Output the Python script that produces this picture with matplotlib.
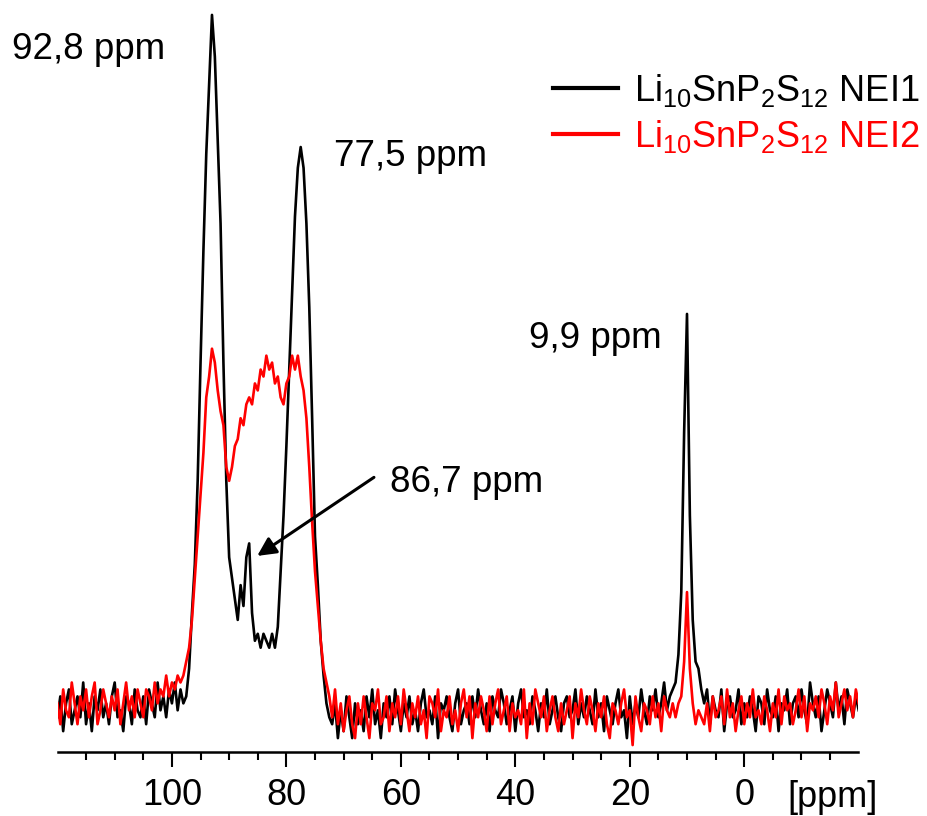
import numpy as np
import matplotlib
matplotlib.use('Agg')
import matplotlib.pyplot as plt
from matplotlib.ticker import MultipleLocator

plt.rcParams['font.family'] = ['Liberation Sans', 'DejaVu Sans']
plt.rcParams['mathtext.default'] = 'regular'

# chemical shift grid, 0.5 ppm steps from 120 down to -20
ppm = np.arange(120, -20.01, -0.5)

# 120 .. 98.5 ppm baseline
black_left = [-1, 2, -3, 1, 3, -2, 0, 2, -1, 4,
              -2, 1, -3, 2, 0, 3, -1, 1, -2, 2,
              4, -1, 0, -3, 2, 1, -2, 3, 0, -1,
              2, -2, 3, 1, -1, 4, 0, 2, -1, 3,
              1, 4, 0, 3]
red_left = [1, -2, 3, 0, -1, 4, 1, -2, 2, 0,
            3, -1, 2, 4, -2, 0, 3, 1, -1, 2,
            0, 3, -2, 1, 4, 0, 2, -1, 3, 1,
            -1, 3, 2, 0, 4, 1, 3, 2, 5, 2,
            4, 3, 5, 4]

# 98 .. 72.5 ppm, main signals
black_main = [1, 2, 6, 14, 21, 33, 50, 66, 80, 90,
              100, 94, 82, 70, 50, 33, 22, 19, 16, 13,
              18, 15, 22, 24, 14, 10, 11, 9, 11, 10,
              9, 11, 9, 12, 20, 28, 38, 49, 60, 71,
              78, 81, 78, 70, 58, 42, 25, 18, 10, 5,
              1, -1]
red_main = [5, 7, 9, 13, 19, 25, 31, 37, 45, 48,
            52, 50, 46, 43, 41, 35, 33, 35, 38, 39,
            42, 41, 44, 45, 44, 47, 46, 49, 48, 51,
            49, 50, 47, 48, 45, 44, 47, 48, 51, 49,
            51, 48, 46, 42, 35, 27, 20, 15, 10, 6,
            4, 2]

# 72 .. 12.5 ppm baseline
black_mid = [-2, 1, -4, 0, -3, 2, -1, -4, 1, -2,
             0, -3, 2, -1, 3, -2, 0, -4, 1, -1,
             2, -2, 3, 0, -3, 1, -1, 2, -2, 0,
             -3, 1, 3, -1, 0, -2, 2, -4, 1, 0,
             2, -1, -3, 1, 3, -2, 0, 1, -2, 2,
             -1, 3, 0, -2, 1, -3, 2, 0, -1, 3,
             1, -2, 0, 2, -3, 1, 3, -1, 0, -2,
             2, 0, -3, 1, -1, 3, -2, 0, 2, -1,
             -3, 1, 2, -1, 0, 3, -2, 1, -1, 2,
             0, -2, 3, -1, 1, -3, 2, 0, -2, 1,
             3, -1, 0, -4, 2, -2, 1, -1, 3, 0,
             -2, 2, 0, 3, -1, 1, 4, 0, 2, 3]
red_mid = [-1, 3, -2, 1, -3, 0, 2, -2, -4, 1,
           -2, 2, -1, -4, 1, 0, 3, -2, -1, 2,
           -3, 1, -1, 2, -2, 3, 0, -3, 1, -1,
           2, -2, 0, -4, 2, 1, -1, 3, -3, 0,
           -1, 2, -2, 0, -3, 1, 3, -1, 2, -4,
           1, -1, 2, 0, -3, 2, -2, 1, 3, -2,
           0, 2, -3, 1, -1, 0, -2, 3, -4, 1,
           -2, 3, 1, -1, 2, -3, 0, 2, -1, -3,
           1, -2, 0, 2, -4, 1, -1, 3, 0, -2,
           2, 0, -3, 1, -1, 2, -2, -4, 1, 0,
           -2, 1, 3, -1, 0, -5, 2, -1, -3, 1,
           0, -2, 2, -1, 1, -3, 2, 0, -1, 1]

# 12 .. 7.5 ppm, the 9,9 ppm signal
black_small = [4, 8, 17, 40, 57, 28, 13, 7, 6, 3]
red_small = [-1, 1, 2, 7, 17, 6, 1, -2, 0, -1]

# 7 .. -20 ppm baseline
black_right = [1, 3, -2, 2, 0, -1, 3, -3, 1, 2,
               -1, 0, 3, -2, 1, -1, 2, 0, -3, 2,
               1, -2, 3, 0, -1, 2, -3, 1, 0, 3,
               -2, 1, 2, -1, 3, 0, -2, 4, 1, -1,
               2, -3, 0, 3, 1, -1, 4, 0, 2, -2,
               3, 1, -1, 2, 0]
red_right = [-2, 1, -3, 2, -1, 0, 2, -2, 3, -1,
             1, -3, 0, 2, -2, 1, -1, 3, -1, 0,
             -2, 2, 0, -3, 1, -1, 3, -2, 2, 0,
             1, -2, 0, 3, -1, 2, -3, 1, 0, 2,
             -1, 3, 1, -2, 2, 0, 4, -1, 1, 3,
             0, 2, -1, 3, 1]

nei1 = np.array(black_left + black_main + black_mid + black_small + black_right, dtype=float)
nei2 = np.array(red_left + red_main + red_mid + red_small + red_right, dtype=float)

peak_labels = ['92,8 ppm', '77,5 ppm', '9,9 ppm', '86,7 ppm']

fig = plt.figure(figsize=(9.27, 8.16), dpi=100)
ax = fig.add_axes([0.0626, 0.0784, 0.8631, 0.9093])

ax.plot(ppm, nei1, color='black', linewidth=1.9, label='Li$_{10}$SnP$_2$S$_{12}$ NEI1')
ax.plot(ppm, nei2, color='red', linewidth=1.9, label='Li$_{10}$SnP$_2$S$_{12}$ NEI2')

ax.set_xlim(119.9, -19.9)
ax.set_ylim(-6.0, 100.7)

ax.xaxis.set_major_locator(MultipleLocator(20))
ax.xaxis.set_minor_locator(MultipleLocator(5))
ax.tick_params(axis='x', which='major', direction='out', length=11, width=1.5,
               labelsize=26, pad=8)
ax.tick_params(axis='x', which='minor', direction='out', length=6, width=1.5)
ax.yaxis.set_visible(False)
for side in ['left', 'top', 'right']:
    ax.spines[side].set_visible(False)
ax.spines['bottom'].set_linewidth(1.8)

ax.text(-15.4, -12.6, '[ppm]', fontsize=26, ha='center', va='center')

ax.text(114.6, 95.0, peak_labels[0], fontsize=26.5, ha='center', va='center')
ax.text(58.4, 79.6, peak_labels[1], fontsize=26.5, ha='center', va='center')
ax.text(26.0, 53.5, peak_labels[2], fontsize=26.5, ha='center', va='center')
ax.text(48.6, 32.8, peak_labels[3], fontsize=26.5, ha='center', va='center')
ax.annotate('', xy=(85.1, 22.2), xytext=(64.7, 33.5),
            arrowprops=dict(arrowstyle='-|>', color='black', lw=2.2,
                            mutation_scale=28, shrinkA=0, shrinkB=0))

leg = ax.legend(loc='upper left', bbox_to_anchor=(553 / 927, 1 - 72 / 816),
                bbox_transform=fig.transFigure, frameon=False, fontsize=26,
                handlelength=1.8, handletextpad=0.45, labelspacing=0.25,
                borderpad=0, borderaxespad=0, labelcolor='linecolor')
for line in leg.get_lines():
    line.set_linewidth(3)

fig.savefig('out.png', dpi=100)
